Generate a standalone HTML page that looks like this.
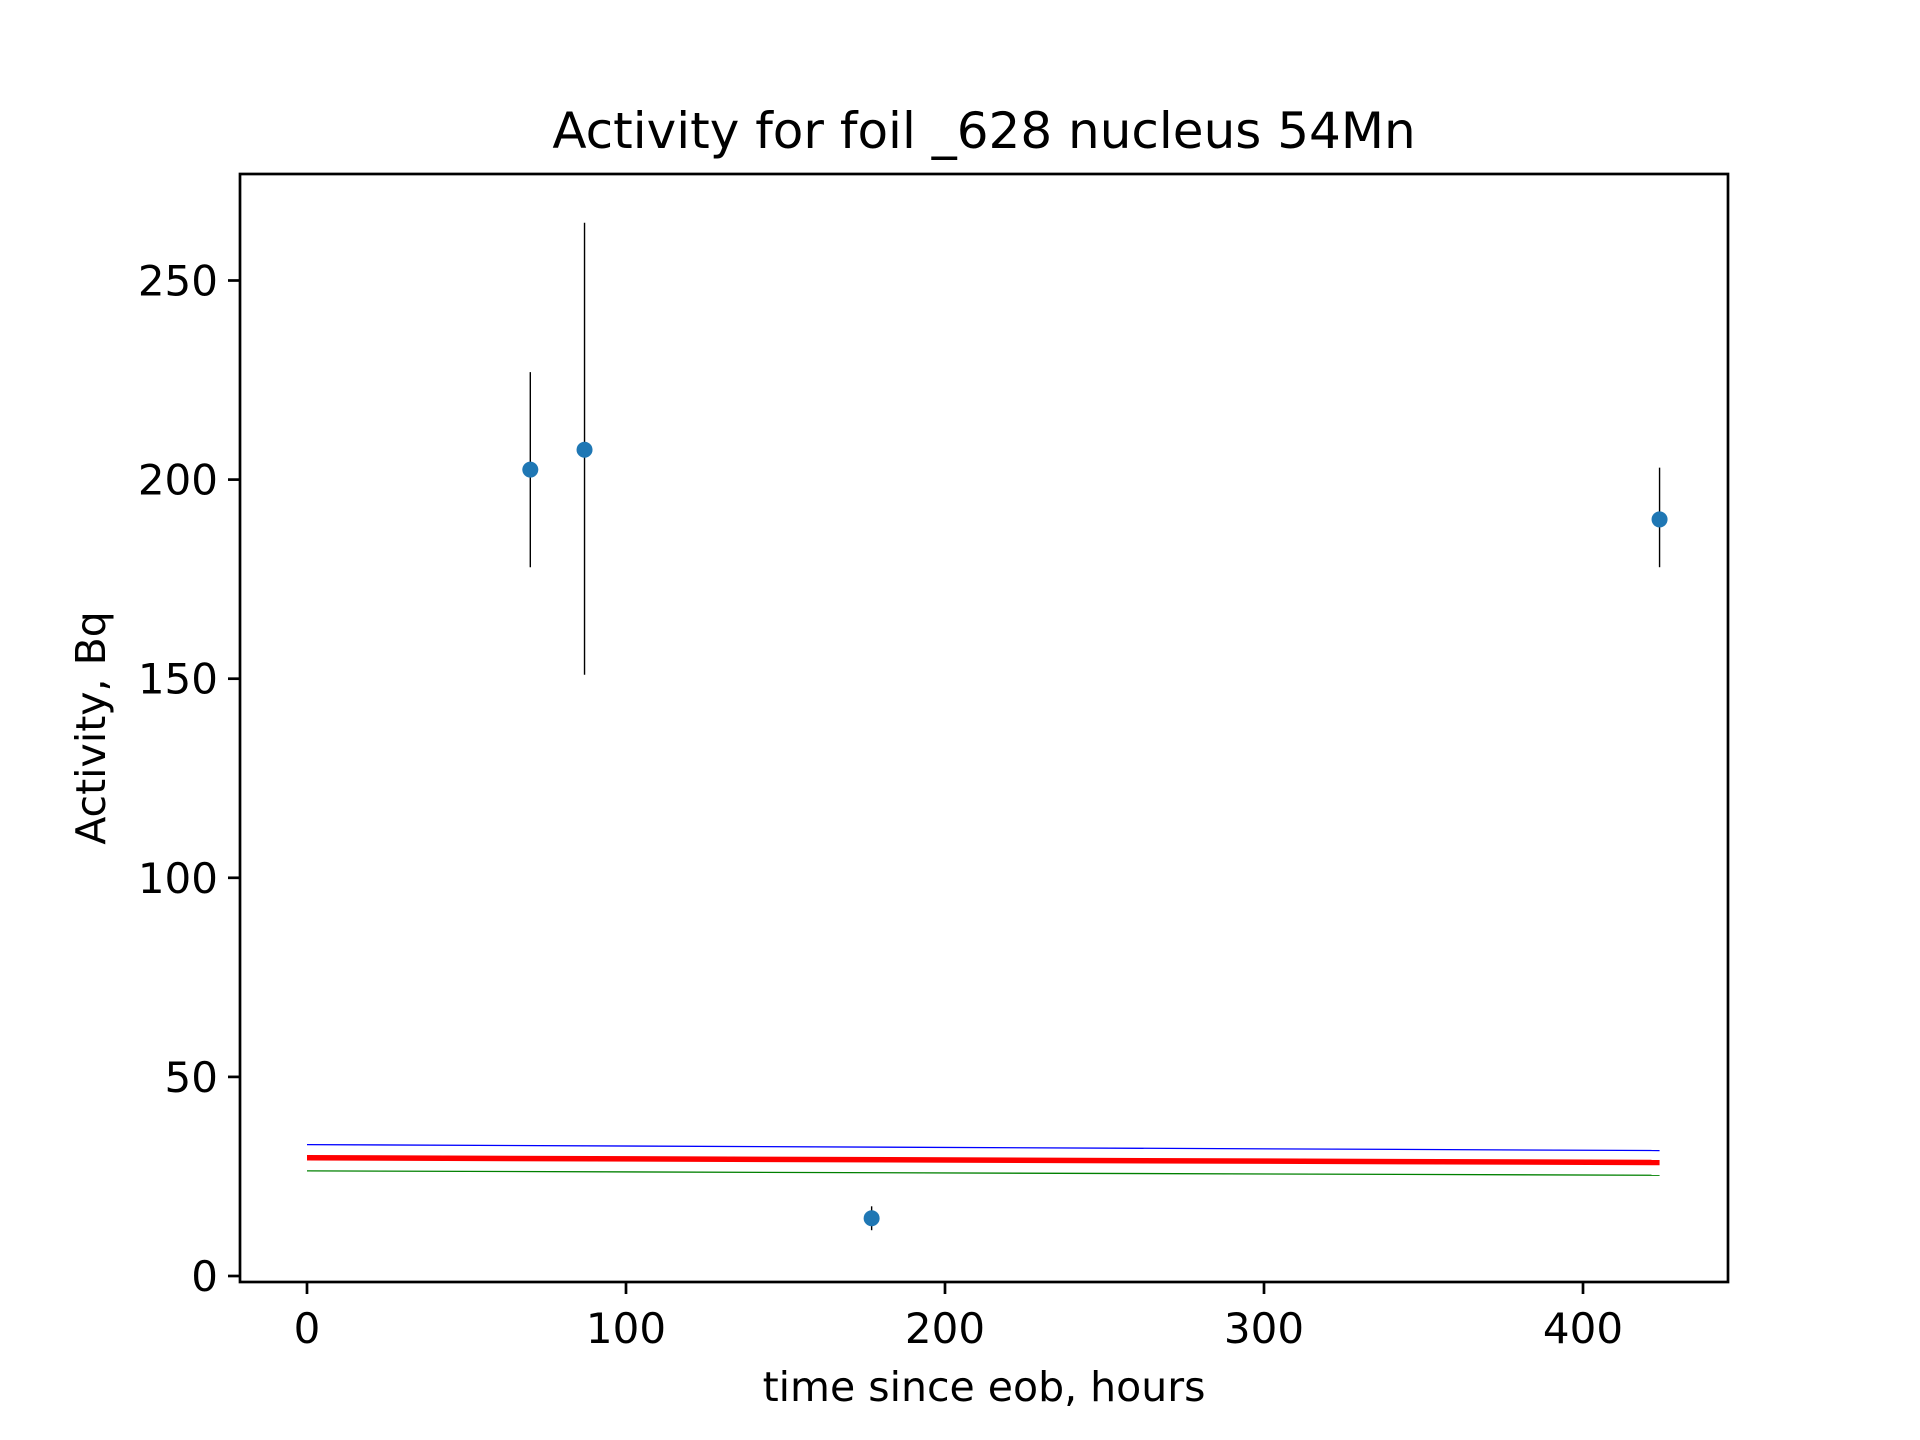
<!DOCTYPE html>
<html><head><meta charset="utf-8"><style>
html,body{margin:0;padding:0;background:#fff;}
svg{display:block;font-family:"DejaVu Sans","Liberation Sans",sans-serif;}
</style></head><body>
<svg id="chart" width="1920" height="1440" viewBox="0 0 1920 1440" xmlns="http://www.w3.org/2000/svg">
<rect width="1920" height="1440" fill="#fff"/>
<text x="984" y="148" font-size="50" text-anchor="middle">Activity for foil _628 nucleus 54Mn</text>
<g id="plot"></g>
<rect x="240" y="174" width="1488" height="1108" fill="none" stroke="#000" stroke-width="2.7"/>
<text x="984" y="1401" font-size="41" text-anchor="middle">time since eob, hours</text>
<text transform="translate(105,728) rotate(-90)" font-size="41" text-anchor="middle">Activity, Bq</text>
</svg>
<script>
const times = [70, 87, 177, 424];
const activity = [202.5, 207.5, 14.5, 190];
const errLow = [178, 151, 11.5, 178];
const errHigh = [227, 264.5, 17.5, 203];
const fitX = [0, 424];
const fitRed = [29.7, 28.5];
const fitBlue = [33, 31.5];
const fitGreen = [26.4, 25.3];
const xTicks = [0, 100, 200, 300, 400];
const yTicks = [0, 50, 100, 150, 200, 250];

const NS = 'http://www.w3.org/2000/svg';
const X = v => 307 + v * 3.19;
const Y = v => 1276 - v * 3.982;
const g = document.getElementById('plot');
function mk(tag, attrs){const e=document.createElementNS(NS,tag);for(const k in attrs)e.setAttribute(k,attrs[k]);g.appendChild(e);return e;}

function line(xs, ys, color, w, name){
  const l = mk('line',{x1:X(xs[0]),y1:Y(ys[0]),x2:X(xs[1]),y2:Y(ys[1]),stroke:color,'stroke-width':w});
  
  
}
line(fitX, fitBlue, '#0000ff', 1.3, 'fit-upper-line');
line(fitX, fitGreen, '#008000', 1.3, 'fit-lower-line');
line(fitX, fitRed, '#ff0000', 5.5, 'fit-line');

times.forEach((t,i)=>{
  const e = mk('line',{x1:X(t),y1:Y(errLow[i]),x2:X(t),y2:Y(errHigh[i]),stroke:'#000','stroke-width':1.4});
  
  
  const c = mk('circle',{cx:X(t),cy:Y(activity[i]),r:8,fill:'#1f77b4'});
  
  
});

xTicks.forEach(v=>{
  const t = mk('line',{x1:X(v),y1:1282,x2:X(v),y2:1294,stroke:'#000','stroke-width':2.7});
  
  
  const l = mk('text',{x:X(v),y:1343,'font-size':42,'text-anchor':'middle'});
  l.textContent = v;
  
  
});
yTicks.forEach(v=>{
  const t = mk('line',{x1:228,y1:Y(v),x2:240,y2:Y(v),stroke:'#000','stroke-width':2.7});
  
  
  const l = mk('text',{x:218,y:Y(v)+15,'font-size':42,'text-anchor':'end'});
  l.textContent = v;
  
  
});
</script>
</body></html>
